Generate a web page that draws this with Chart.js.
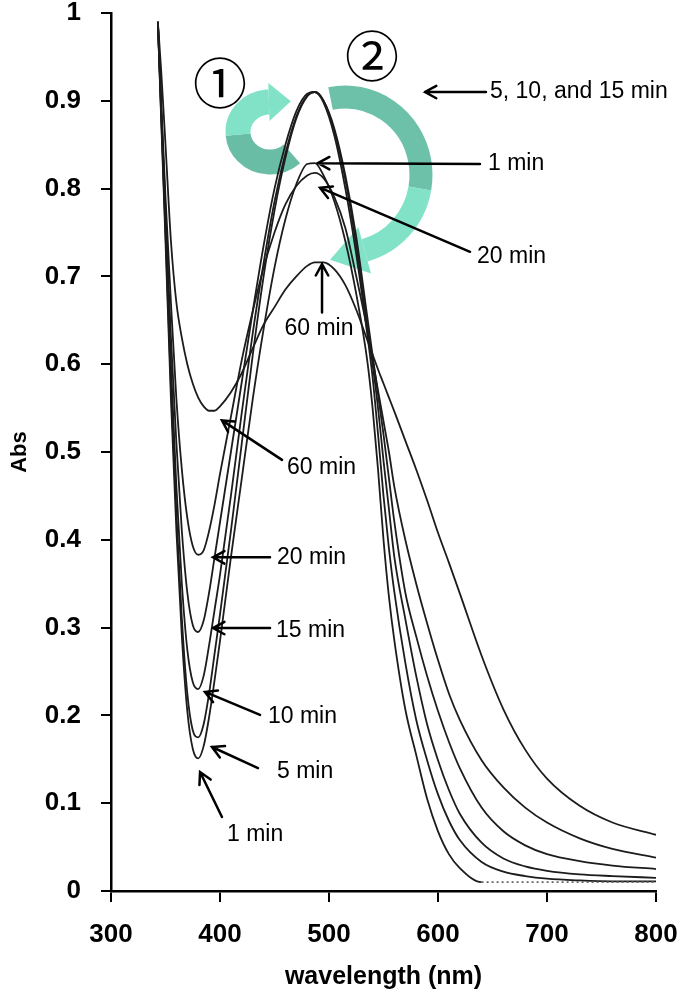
<!DOCTYPE html>
<html lang="en">
<head>
<meta charset="UTF-8">
<title>Abs spectra</title>
<script src="https://cdn.jsdelivr.net/npm/chart.js@4.4.0/dist/chart.umd.min.js"></script>
<style>
    html, body { margin: 0; padding: 0; background: #fff; }
</style>
</head>
<body>
<canvas id="absChart" width="687" height="997"></canvas>
<script>
    // wavelength (nm) shared by every spectrum
    var wavelength = [343, 346, 350, 355, 360, 365, 370, 375, 380, 385, 390, 395, 400, 410, 420, 430, 440, 450, 460, 470,
        480, 487, 495, 505, 515, 525, 535, 540, 545, 550, 555, 560, 570, 580, 590, 600, 610, 620, 640, 660,
        680, 700, 730, 760, 800];

    var abs1min = [0.99, 0.88, 0.74, 0.56, 0.41, 0.29, 0.205, 0.162, 0.151, 0.165, 0.198, 0.24, 0.285, 0.38, 0.47, 0.56, 0.64, 0.71, 0.765, 0.805,
        0.828, 0.829, 0.815, 0.785, 0.74, 0.68, 0.605, 0.55, 0.48, 0.40, 0.335, 0.285, 0.207, 0.155, 0.105, 0.068, 0.042, 0.026, 0.01, 0.01,
        0.01, 0.01, 0.01, 0.01, 0.01];
    var abs5min = [0.99, 0.885, 0.75, 0.575, 0.43, 0.31, 0.225, 0.183, 0.175, 0.19, 0.225, 0.27, 0.315, 0.41, 0.51, 0.61, 0.70, 0.775, 0.835, 0.88,
        0.905, 0.91, 0.898, 0.86, 0.80, 0.725, 0.635, 0.585, 0.52, 0.45, 0.39, 0.34, 0.26, 0.195, 0.149, 0.11, 0.08, 0.058, 0.033, 0.022,
        0.017, 0.014, 0.012, 0.011, 0.011];
    var abs10min = [0.99, 0.89, 0.76, 0.60, 0.46, 0.35, 0.275, 0.238, 0.23, 0.245, 0.28, 0.32, 0.36, 0.45, 0.545, 0.635, 0.715, 0.785, 0.84, 0.882,
        0.906, 0.91, 0.90, 0.865, 0.81, 0.735, 0.645, 0.60, 0.55, 0.49, 0.435, 0.38, 0.31, 0.245, 0.19, 0.149, 0.115, 0.088, 0.055, 0.037,
        0.028, 0.023, 0.019, 0.017, 0.015];
    var abs15min = [0.99, 0.895, 0.775, 0.63, 0.51, 0.41, 0.34, 0.303, 0.295, 0.308, 0.34, 0.38, 0.42, 0.50, 0.58, 0.66, 0.735, 0.80, 0.85, 0.888,
        0.908, 0.91, 0.90, 0.868, 0.815, 0.745, 0.655, 0.61, 0.565, 0.52, 0.47, 0.42, 0.34, 0.29, 0.245, 0.205, 0.17, 0.14, 0.095, 0.068,
        0.052, 0.042, 0.034, 0.029, 0.025];
    var abs20min = [0.99, 0.90, 0.79, 0.67, 0.56, 0.48, 0.425, 0.393, 0.383, 0.388, 0.41, 0.44, 0.475, 0.54, 0.605, 0.66, 0.71, 0.75, 0.782, 0.803,
        0.815, 0.818, 0.812, 0.79, 0.755, 0.70, 0.64, 0.605, 0.57, 0.535, 0.50, 0.46, 0.40, 0.35, 0.305, 0.263, 0.225, 0.195, 0.149, 0.118,
        0.095, 0.078, 0.06, 0.048, 0.038];
    var abs60min = [0.99, 0.935, 0.85, 0.74, 0.67, 0.63, 0.60, 0.578, 0.562, 0.552, 0.547, 0.547, 0.552, 0.568, 0.59, 0.618, 0.645, 0.665, 0.685, 0.70,
        0.712, 0.716, 0.716, 0.708, 0.69, 0.662, 0.628, 0.611, 0.594, 0.578, 0.562, 0.546, 0.513, 0.48, 0.445, 0.408, 0.374, 0.339, 0.268, 0.207,
        0.161, 0.128, 0.097, 0.078, 0.064];

    var seriesNames = ['1 min', '5 min', '10 min', '15 min', '20 min', '60 min'];
    var seriesValues = [abs1min, abs5min, abs10min, abs15min, abs20min, abs60min];

    var xTicks = [300, 400, 500, 600, 700, 800];
    var yTicks = [0, 0.1, 0.2, 0.3, 0.4, 0.5, 0.6, 0.7, 0.8, 0.9, 1];

    // labelled arrows, in data units (wavelength, Abs)
    var notes = [
        {text: '5, 10, and 15 min', at: [647.7, 0.910], tail: [644, 0.910], head: [588, 0.910]},
        {text: '1 min', at: [645.9, 0.828], tail: [638.5, 0.828], head: [489.9, 0.829]},
        {text: '20 min', at: [635.8, 0.722], tail: [629.4, 0.728], head: [491.7, 0.801]},
        {text: '60 min', at: [490.8, 0.641], tail: [493.6, 0.659], head: [493.6, 0.714], center: true},
        {text: '60 min', at: [461.5, 0.482], tail: [456.9, 0.491], head: [401.8, 0.536]},
        {text: '20 min', at: [452.3, 0.380], tail: [445.9, 0.380], head: [393.6, 0.380]},
        {text: '15 min', at: [451.4, 0.297], tail: [445.9, 0.2995], head: [393.6, 0.2995]},
        {text: '10 min', at: [444.0, 0.198], tail: [436.7, 0.2005], head: [386.2, 0.2267]},
        {text: '5 min', at: [452.3, 0.1355], tail: [434.9, 0.140], head: [392.7, 0.164]},
        {text: '1 min', at: [406.4, 0.0638], tail: [401.8, 0.0843], head: [381.7, 0.1355]}
    ];

    // teal ribbon arrows: ellipse centre/radii in data units, arc angles in degrees
    // split = angle where the ribbon turns from the dark (back) to the light (front) shade
    var ribbons = [
        {cx: 445.9, cy: 0.8645, rx: 29.4, ry: 0.0342, from: 47, split: 175, to: 268, width: 25, headLen: 22, headHalf: 19,
            first: 'rgba(84, 180, 152, 0.88)', second: 'rgba(112, 222, 192, 0.88)'},
        {cx: 514.7, cy: 0.8155, rx: 69.7, ry: 0.0888, from: -101, split: 10, to: 75, width: 23, headLen: 36, headHalf: 24,
            first: 'rgba(88, 184, 156, 0.88)', second: 'rgba(112, 222, 192, 0.88)'}
    ];
    var circled = [{text: '\u2460', at: [400, 0.920]}, {text: '\u2461', at: [539.4, 0.950]}];

    var datasets = seriesValues.map(function (vals, k) {
        var ds = {
            label: seriesNames[k],
            data: wavelength.map(function (w, i) { return {x: w, y: vals[i]}; }),
            borderColor: '#1c1c1c',
            borderWidth: 1.8,
            pointRadius: 0,
            fill: false,
            cubicInterpolationMode: 'monotone'
        };
        if (k === 0) {
            ds.segment = {
                borderDash: function (c) { return c.p0.parsed.x >= 640 ? [2, 3] : undefined; },
                borderColor: function (c) { return c.p0.parsed.x >= 640 ? '#666' : undefined; }
            };
        }
        return ds;
    });

    function drawArrow(ctx, x0, y0, x1, y1) {
        var a = Math.atan2(y1 - y0, x1 - x0), len = 13, spread = 0.5;
        ctx.beginPath();
        ctx.moveTo(x0, y0);
        ctx.lineTo(x1, y1);
        ctx.moveTo(x1 - len * Math.cos(a - spread), y1 - len * Math.sin(a - spread));
        ctx.lineTo(x1, y1);
        ctx.lineTo(x1 - len * Math.cos(a + spread), y1 - len * Math.sin(a + spread));
        ctx.stroke();
    }

    var ribbonPlugin = {
        id: 'ribbons',
        beforeDatasetsDraw: function (chart) {
            var ctx = chart.ctx, xs = chart.scales.x, ys = chart.scales.y;
            var rad = Math.PI / 180;
            ctx.save();
            ribbons.forEach(function (r) {
                var cx = xs.getPixelForValue(r.cx), cy = ys.getPixelForValue(r.cy);
                var rx = xs.getPixelForValue(r.cx + r.rx) - cx;
                var ry = cy - ys.getPixelForValue(r.cy + r.ry);
                ctx.lineWidth = r.width;
                ctx.strokeStyle = r.first;
                ctx.beginPath();
                ctx.ellipse(cx, cy, rx, ry, 0, r.from * rad, r.split * rad, false);
                ctx.stroke();
                ctx.strokeStyle = r.second;
                ctx.beginPath();
                ctx.ellipse(cx, cy, rx, ry, 0, r.split * rad, r.to * rad, false);
                ctx.stroke();
                var a1 = r.to * rad;
                var ex = cx + rx * Math.cos(a1), ey = cy + ry * Math.sin(a1);
                var dx = -rx * Math.sin(a1), dy = ry * Math.cos(a1);
                var d = Math.sqrt(dx * dx + dy * dy);
                dx /= d; dy /= d;
                ctx.fillStyle = r.second;
                ctx.beginPath();
                ctx.moveTo(ex + dx * r.headLen, ey + dy * r.headLen);
                ctx.lineTo(ex - dy * r.headHalf, ey + dx * r.headHalf);
                ctx.lineTo(ex + dy * r.headHalf, ey - dx * r.headHalf);
                ctx.closePath();
                ctx.fill();
            });
            ctx.restore();
        },
        afterDatasetsDraw: function (chart) {
            var ctx = chart.ctx, xs = chart.scales.x, ys = chart.scales.y;
            ctx.save();
            ctx.strokeStyle = '#000';
            ctx.fillStyle = '#000';
            ctx.lineWidth = 2.5;
            ctx.lineCap = 'round';
            ctx.textBaseline = 'middle';
            ctx.font = '23px "Liberation Sans", Arial, sans-serif';
            notes.forEach(function (n) {
                drawArrow(ctx, xs.getPixelForValue(n.tail[0]), ys.getPixelForValue(n.tail[1]),
                    xs.getPixelForValue(n.head[0]), ys.getPixelForValue(n.head[1]));
                ctx.textAlign = n.center ? 'center' : 'left';
                ctx.fillText(n.text, xs.getPixelForValue(n.at[0]), ys.getPixelForValue(n.at[1]));
            });
            ctx.font = '54px "Noto Sans CJK JP", "DejaVu Sans", sans-serif';
            ctx.textAlign = 'center';
            circled.forEach(function (c) {
                ctx.fillText(c.text, xs.getPixelForValue(c.at[0]), ys.getPixelForValue(c.at[1]));
            });
            ctx.restore();
        }
    };

    var tickFont = {family: '"Liberation Sans", Arial, sans-serif', size: 26, weight: 'bold'};

    var config = {
        type: 'line',
        data: {datasets: datasets},
        options: {
            responsive: false,
            animation: false,
            layout: {padding: {top: 13, right: 31, left: 0, bottom: 0}},
            plugins: {legend: {display: false}, tooltip: {enabled: false}},
            scales: {
                x: {
                    type: 'linear',
                    min: 300,
                    max: 800,
                    afterBuildTicks: function (s) { s.ticks = xTicks.map(function (v) { return {value: v}; }); },
                    afterFit: function (s) { s.height = 106; s.paddingLeft = 0; s.paddingRight = 0; },
                    ticks: {color: '#000', font: tickFont, padding: 17, maxRotation: 0},
                    grid: {drawOnChartArea: false, drawTicks: true, tickLength: 11, color: '#000', lineWidth: 2},
                    border: {display: true, color: '#000', width: 2.5},
                    title: {
                        display: true, text: 'wavelength (nm)', color: '#000',
                        font: {family: '"Liberation Sans", Arial, sans-serif', size: 25, weight: 'bold'},
                        padding: {bottom: 5}
                    }
                },
                y: {
                    min: 0,
                    max: 1,
                    afterBuildTicks: function (s) { s.ticks = yTicks.map(function (v) { return {value: v}; }); },
                    afterFit: function (s) { s.width = 111; s.paddingTop = 0; s.paddingBottom = 0; },
                    ticks: {
                        color: '#000', font: tickFont, padding: 20,
                        callback: function (v) { return String(+v.toFixed(1)); }
                    },
                    grid: {drawOnChartArea: false, drawTicks: true, tickLength: 10, color: '#000', lineWidth: 2},
                    border: {display: true, color: '#000', width: 2.5},
                    title: {
                        display: true, text: 'Abs', color: '#000',
                        font: {family: '"Liberation Sans", Arial, sans-serif', size: 22, weight: 'bold'},
                        padding: {top: 7}
                    }
                }
            }
        },
        plugins: [ribbonPlugin]
    };

    window.onload = function () {
        var ctx = document.getElementById('absChart').getContext('2d');
        window.absChart = new Chart(ctx, config);
    };
</script>
</body>
</html>
